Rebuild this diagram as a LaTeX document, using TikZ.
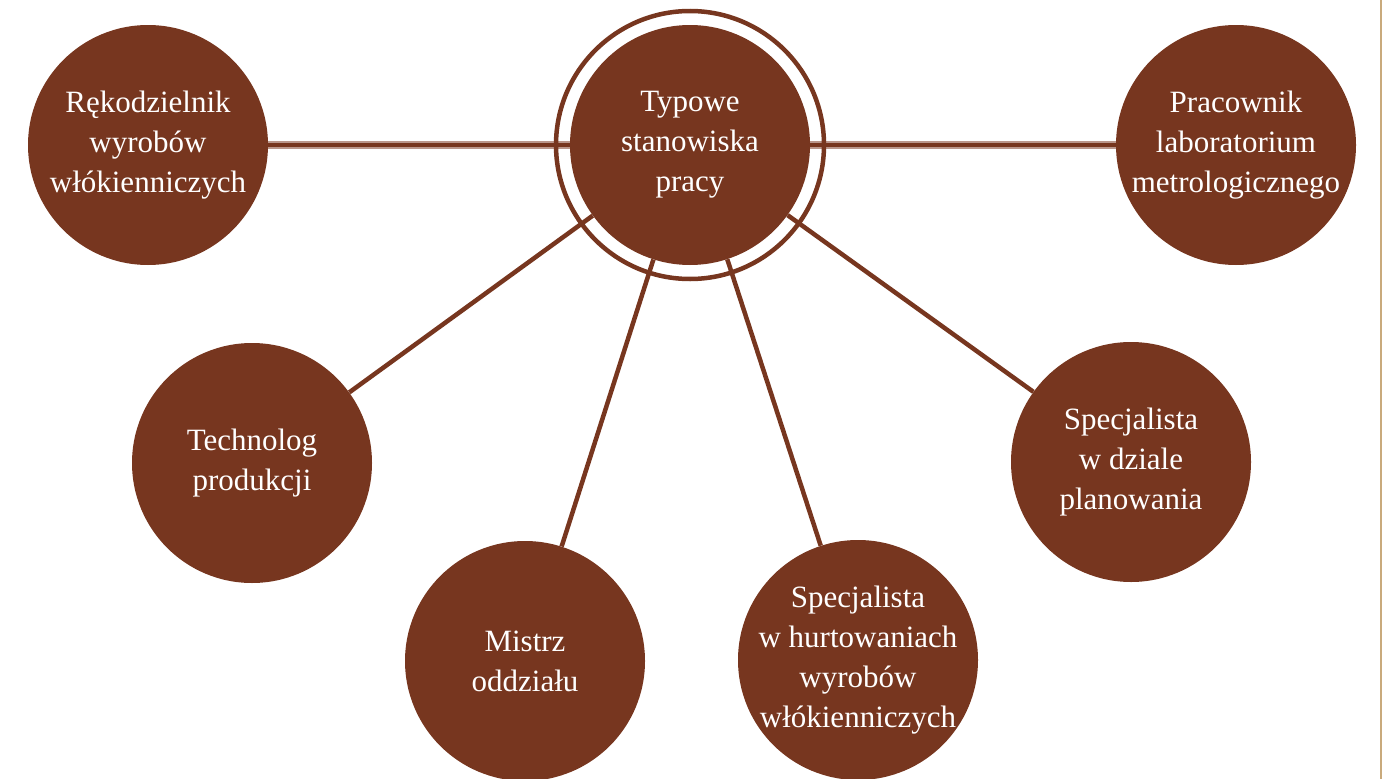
\documentclass[tikz,border=0pt]{standalone}
\usepackage{fontspec}
\setmainfont{Liberation Serif}
\definecolor{brick}{HTML}{77361F}
\definecolor{brickhalo}{HTML}{BA968B}
\definecolor{rim}{HTML}{C9AA7C}
\tikzset{
  jobtext/.style={text=white, align=center, font=\fontsize{31}{40}\selectfont},
  job/.style={circle, fill=brick, minimum size=240pt, inner sep=0pt, jobtext},
  link/.style={draw=brick, line width=4.5pt},
  flatlink/.style={draw=brick, line width=4pt,
    preaction={draw=brickhalo, line width=8pt}},
}
\begin{document}
\begin{tikzpicture}[x=1pt, y=-1pt]
  \useasboundingbox (0,0) rectangle (1382,779);
  \draw[rim, line width=1.5pt] (1381,0) -- (1381,779);

  \node[job] (T) at (690,145) {Typowe\\stanowiska\\pracy};
  \node[job] (R) at (148,145) {Rękodzielnik\\wyrobów\\włókienniczych};
  \node[job] (P) at (1236,145) {Pracownik\\laboratorium\\metrologicznego};
  \node[job] (Tech) at (252,463) {Technolog\\produkcji};
  \node[job] (M) at (525,661) {Mistrz\\oddziału};
  \node[job, label={[jobtext]center:Specjalista\\w hurtowaniach\\wyrobów\\włókienniczych}]
    (H) at (858,660) {};
  \node[job] (S) at (1131,462) {Specjalista\\w dziale\\planowania};

  \draw[flatlink] (T) -- (R);
  \draw[flatlink] (T) -- (P);
  \draw[link] (T) -- (Tech);
  \draw[link] (T) -- (M);
  \draw[link] (T) -- (H);
  \draw[link] (T) -- (S);
  \draw[brick, line width=4.5pt] (T) circle (134pt);
\end{tikzpicture}
\end{document}
